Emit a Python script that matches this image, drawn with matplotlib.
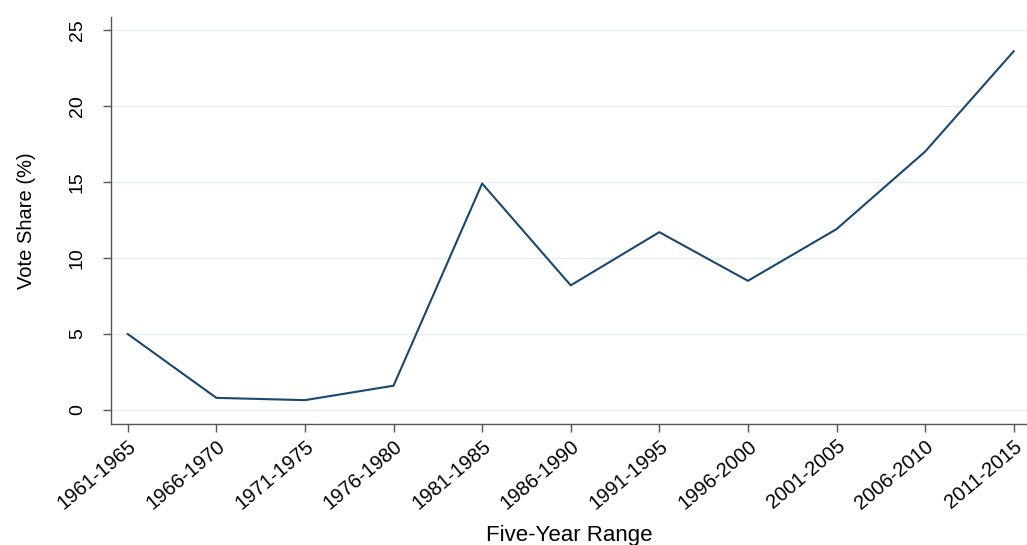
import matplotlib.pyplot as plt

plt.rcParams['font.family'] = ['Liberation Sans', 'DejaVu Sans']

# Data
periods = ['1961-1965', '1966-1970', '1971-1975', '1976-1980', '1981-1985',
           '1986-1990', '1991-1995', '1996-2000', '2001-2005', '2006-2010',
           '2011-2015']
vote_share = [5.0, 0.8, 0.65, 1.6, 14.9, 8.2, 11.7, 8.5, 11.9, 17.0, 23.6]
y_ticks = [0, 5, 10, 15, 20, 25]

fig = plt.figure(figsize=(10.27, 5.45), dpi=100)
ax = fig.add_axes([0.108, 0.222, 0.892, 0.747])

x = list(range(len(periods)))
ax.plot(x, vote_share, color='#1a476f', linewidth=1.5)

ax.set_xlim(-0.19, 10.15)
ax.set_ylim(-0.92, 25.86)
ax.set_xticks(x)
ax.set_xticklabels(periods, rotation=40, ha='right', rotation_mode='anchor',
                   fontsize=14.5)
ax.set_yticks(y_ticks)
ax.set_yticklabels([str(v) for v in y_ticks], rotation=90, va='center',
                   fontsize=14)
ax.tick_params(direction='out', length=6, width=1, color='#555555')
ax.tick_params(axis='y', pad=12)
ax.tick_params(axis='x', pad=3)
ax.grid(axis='y', color='#e6eef2', linewidth=1)
ax.set_axisbelow(True)

for s in ['top', 'right']:
    ax.spines[s].set_visible(False)
for s in ['left', 'bottom']:
    ax.spines[s].set_color('#555555')
    ax.spines[s].set_linewidth(1)

ax.set_ylabel('Vote Share (%)', fontsize=14.5)
ax.yaxis.set_label_coords(-0.082, 0.5)
ax.set_xlabel('Five-Year Range', fontsize=16)
ax.xaxis.set_label_coords(0.5, -0.248)

fig.savefig('out.png', dpi=100)
